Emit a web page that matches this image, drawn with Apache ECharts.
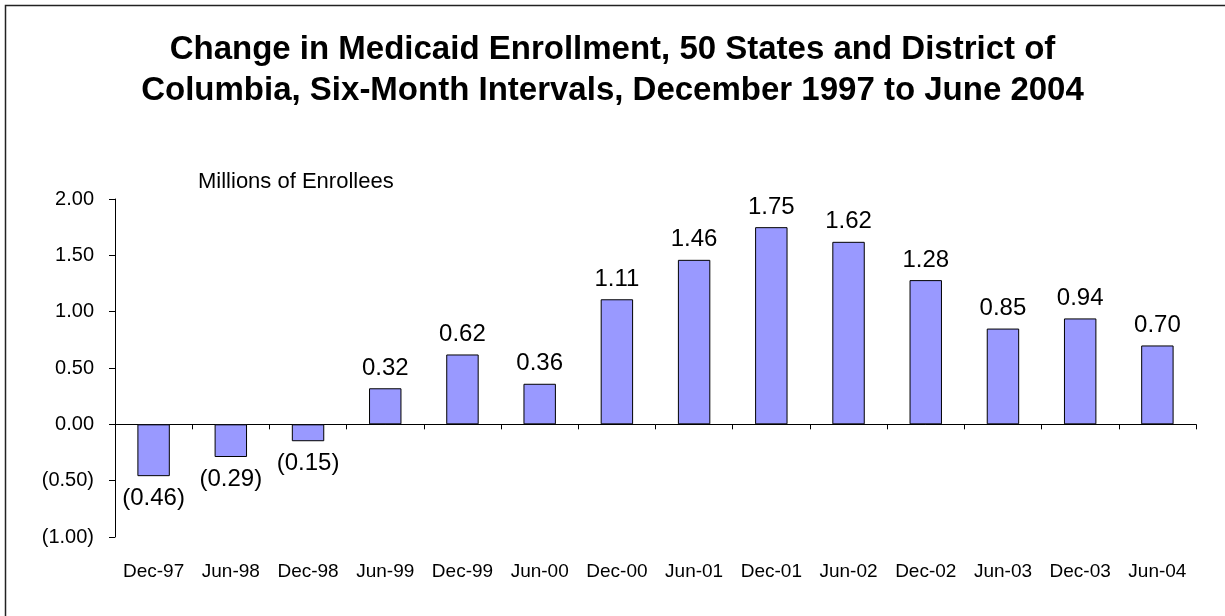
<!DOCTYPE html>
<html>
<head>
<meta charset="utf-8">
<script src="https://cdn.jsdelivr.net/npm/echarts@6/dist/echarts.min.js"></script>
<style>
  html, body { margin: 0; padding: 0; background: #fff; }
  #chart { width: 1225px; height: 616px; }
</style>
</head>
<body>
<div id="chart"></div>
<script>
const periods = ["Dec-97", "Jun-98", "Dec-98", "Jun-99", "Dec-99", "Jun-00", "Dec-00",
  "Jun-01", "Dec-01", "Jun-02", "Dec-02", "Jun-03", "Dec-03", "Jun-04"];
const enrollChange = [-0.46, -0.29, -0.15, 0.32, 0.62, 0.36, 1.11, 1.46, 1.75, 1.62, 1.28, 0.85, 0.94, 0.70];

const fmt = v => (v < 0 ? "(" + Math.abs(v).toFixed(2) + ")" : v.toFixed(2));
const font = "'Liberation Sans', Arial, sans-serif";

const chart = echarts.init(document.getElementById("chart"));
chart.setOption({
  animation: false,
  title: {
    text: "Change in Medicaid Enrollment, 50 States and District of\nColumbia, Six-Month Intervals, December 1997 to June 2004",
    left: "center",
    top: 24,
    textStyle: {
      fontFamily: font,
      fontWeight: "bold",
      fontSize: 33,
      lineHeight: 41,
      color: "#000"
    }
  },
  graphic: [
    {
      type: "rect",
      shape: { x: 5.5, y: 5.5, width: 1400, height: 800 },
      style: { fill: "none", stroke: "#222", lineWidth: 1.5 },
      silent: true
    },
    {
      type: "text",
      left: 198,
      top: 171,
      style: { text: "Millions of Enrollees", font: "22px " + font, fill: "#000" }
    }
  ],
  grid: { left: 115, right: 29, top: 199, bottom: 79 },
  xAxis: [
    {
      type: "category",
      data: periods,
      axisLine: { onZero: true, lineStyle: { color: "#000", width: 1 } },
      axisTick: { show: true, length: 5, interval: 0, lineStyle: { color: "#000" } },
      axisLabel: { show: false }
    },
    {
      type: "category",
      data: periods,
      position: "bottom",
      axisLine: { show: false, onZero: false },
      axisTick: { show: false },
      axisLabel: { interval: 0, margin: 25, fontFamily: font, fontSize: 19, color: "#000" }
    }
  ],
  yAxis: {
    type: "value",
    min: -1,
    max: 2,
    interval: 0.5,
    axisLine: { show: true, lineStyle: { color: "#000" } },
    axisTick: { show: true, length: 6, lineStyle: { color: "#000" } },
    splitLine: { show: false },
    axisLabel: { formatter: fmt, margin: 21, fontFamily: font, fontSize: 20, color: "#000" }
  },
  series: [
    {
      type: "bar",
      xAxisIndex: 0,
      barCategoryGap: "58%",
      data: enrollChange.map(v => ({
        value: v,
        label: { position: v < 0 ? "bottom" : "top", distance: v < 0 ? 10 : 8 }
      })),
      itemStyle: { color: "#9999FF", borderColor: "#000", borderWidth: 1 },
      label: {
        show: true,
        formatter: p => fmt(p.value),
        fontFamily: font,
        fontSize: 24,
        color: "#000"
      }
    }
  ]
});
</script>
</body>
</html>
